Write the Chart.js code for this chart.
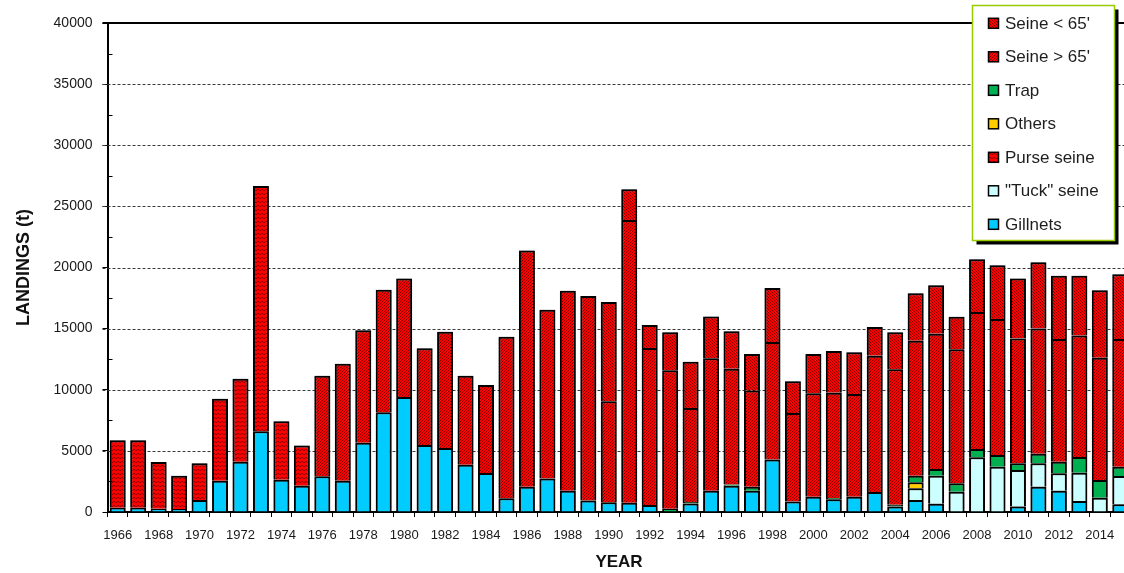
<!DOCTYPE html>
<html>
<head>
<meta charset="utf-8">
<script src="https://cdn.jsdelivr.net/npm/chart.js@4.4.1/dist/chart.umd.min.js"></script>
<style>
  html, body { margin: 0; padding: 0; overflow: hidden; background: #fff; }
  canvas { display: block; }
</style>
</head>
<body>
<canvas id="landings" width="1140" height="573"></canvas>
<script>
// Landings (t) by gear type, 1966-2015
const years = ['1966','1967','1968','1969','1970','1971','1972','1973','1974','1975',
               '1976','1977','1978','1979','1980','1981','1982','1983','1984','1985',
               '1986','1987','1988','1989','1990','1991','1992','1993','1994','1995',
               '1996','1997','1998','1999','2000','2001','2002','2003','2004','2005',
               '2006','2007','2008','2009','2010','2011','2012','2013','2014','2015'];

const gillnets = [350,350,270,250,980,2560,4120,6600,2640,2150,
                  2920,2560,5670,8150,9410,5480,5240,3870,3190,1120,
                  2070,2750,1740,950,790,760,570,null,700,1740,
                  2150,1740,4300,850,1250,1050,1250,1640,440,980,
                  680,null,null,null,440,2070,1740,900,null,630];

const tuckSeine = [null,null,null,null,null,null,null,null,null,null,
                   null,null,null,null,null,null,null,null,null,null,
                   null,null,null,null,null,null,null,null,null,null,
                   null,null,null,null,null,null,null,null,null,960,
                   2290,1660,4470,3710,3000,1910,1420,2320,1170,2310];

const purseSeine = [5510,5510,3820,2720,3000,6710,6780,20070,4780,3280,
                    null,null,null,null,null,null,null,null,null,null,
                    null,null,null,null,null,null,null,null,null,null,
                    null,null,null,null,null,null,null,null,null,null,
                    null,null,null,null,null,null,null,null,null,null];

const others = [null,null,null,null,null,null,null,null,null,null,
                null,null,null,null,null,null,null,null,null,null,
                null,null,null,null,null,null,null,null,null,null,
                null,null,null,null,null,null,null,null,null,490,
                null,null,null,null,null,null,null,null,null,null];

const trap = [null,null,null,null,null,null,null,null,null,null,
              null,null,null,null,null,null,null,null,null,null,
              null,null,null,null,null,null,null,270,120,null,
              100,330,null,null,null,100,null,null,150,540,
              550,690,680,950,540,790,960,1280,1450,770];

const seineOver65 = [null,null,null,null,null,null,null,null,null,null,
                     8230,9570,9190,10040,9700,7910,9510,7280,7200,13220,
                     19330,13800,16360,16720,8260,23130,12850,11320,7690,10830,
                     9470,7860,9600,7250,8460,8610,8400,11150,11080,11040,
                     11070,10960,11210,11130,10220,10250,10030,9930,10000,10440];

const seineUnder65 = [null,null,null,null,null,null,null,null,null,null,
                      null,null,null,null,null,null,null,null,null,null,
                      null,null,null,null,8130,2510,1880,3110,3790,3430,
                      3060,2990,4420,2590,3210,3410,3410,2340,3030,3880,
                      3950,2670,4310,4390,4910,5400,5180,4900,5510,5290];

const yTicks = { min: 0, max: 40000, major: 5000, minor: 2500 };

const FONT = "'Liberation Sans', Arial, sans-serif";

// ---- hatch fills ----
function makePattern(size, draw) {
  const c = document.createElement('canvas');
  c.width = size; c.height = size;
  const g = c.getContext('2d');
  g.fillStyle = '#ff0000';
  g.fillRect(0, 0, size, size);
  g.strokeStyle = 'rgba(0,0,0,0.6)';
  g.lineWidth = 0.8;
  draw(g, size);
  return g.createPattern(c, 'repeat');
}
const fillPurse = makePattern(4, (g, s) => {
  g.beginPath();
  g.moveTo(0, 2.8); g.lineTo(2, 1.2); g.lineTo(4, 2.8);
  g.stroke();
});
const fillOver = makePattern(3, (g, s) => {
  g.beginPath();
  g.moveTo(0, s); g.lineTo(s, 0);
  g.moveTo(-1, 1); g.lineTo(1, -1);
  g.moveTo(s - 1, s + 1); g.lineTo(s + 1, s - 1);
  g.stroke();
});
const fillUnder = makePattern(3, (g, s) => {
  g.beginPath();
  g.moveTo(0, 0); g.lineTo(s, s);
  g.moveTo(-1, s - 1); g.lineTo(1, s + 1);
  g.moveTo(s - 1, -1); g.lineTo(s + 1, 1);
  g.stroke();
});

const series = [
  { label: 'Gillnets',      data: gillnets,     backgroundColor: '#00ccff' },
  { label: '"Tuck" seine',  data: tuckSeine,    backgroundColor: '#ccffff' },
  { label: 'Purse seine',   data: purseSeine,   backgroundColor: fillPurse },
  { label: 'Others',        data: others,       backgroundColor: '#ffcc00' },
  { label: 'Trap',          data: trap,         backgroundColor: '#00b050' },
  { label: "Seine > 65'",   data: seineOver65,  backgroundColor: fillOver },
  { label: "Seine < 65'",   data: seineUnder65, backgroundColor: fillUnder }
];

// dashed horizontal grid behind the bars, soft edge on the bars
const gridPlugin = {
  id: 'dashedGrid',
  beforeDatasetsDraw(chart) {
    const { ctx, chartArea: a, scales: { y } } = chart;
    ctx.save();
    ctx.strokeStyle = '#3a3a3a';
    ctx.lineWidth = 1;
    ctx.setLineDash([3, 2]);
    y.ticks.forEach(t => {
      if (t.value % yTicks.major === 0 && t.value > yTicks.min && t.value < yTicks.max) {
        const py = Math.round(y.getPixelForValue(t.value)) + 0.5;
        ctx.beginPath();
        ctx.moveTo(a.left - 5, py);
        ctx.lineTo(a.right, py);
        ctx.stroke();
      }
    });
    ctx.restore();
    ctx.save();
    ctx.shadowColor = 'rgba(0,0,0,0.45)';
    ctx.shadowBlur = 2;
  },
  afterDatasetsDraw(chart) {
    const { ctx, chartArea: a, scales: { y } } = chart;
    ctx.restore();
    ctx.save();
    // frame top
    ctx.strokeStyle = '#000';
    ctx.lineWidth = 2;
    ctx.beginPath();
    ctx.moveTo(a.left - 5, a.top);
    ctx.lineTo(a.right, a.top);
    ctx.stroke();
    // minor ticks on the inside of the value axis
    ctx.lineWidth = 1;
    y.ticks.forEach(t => {
      if (t.value % yTicks.major !== 0) {
        const py = Math.round(y.getPixelForValue(t.value)) + 0.5;
        ctx.beginPath();
        ctx.moveTo(a.left, py);
        ctx.lineTo(a.left + 5, py);
        ctx.stroke();
      }
    });
    ctx.restore();
  }
};

// boxed legend with drop shadow, listed top of stack first
const legendPlugin = {
  id: 'boxLegend',
  afterDraw(chart) {
    const { ctx } = chart;
    const box = { x: 972.5, y: 5.5, w: 142, h: 235 };
    ctx.save();
    ctx.fillStyle = '#000';
    ctx.fillRect(box.x + 4, box.y + 4, box.w, box.h);
    ctx.fillStyle = '#fff';
    ctx.fillRect(box.x, box.y, box.w, box.h);
    ctx.strokeStyle = '#99cc00';
    ctx.lineWidth = 1.5;
    ctx.strokeRect(box.x, box.y, box.w, box.h);

    const items = chart.data.datasets.slice().reverse();
    ctx.font = '17px ' + FONT;
    ctx.textBaseline = 'middle';
    ctx.textAlign = 'left';
    items.forEach((ds, i) => {
      const cy = 23.3 + i * 33.5;
      ctx.fillStyle = ds.backgroundColor;
      ctx.fillRect(988.5, cy - 5, 10, 10);
      ctx.strokeStyle = '#000';
      ctx.lineWidth = 1.5;
      ctx.strokeRect(988.5, cy - 5, 10, 10);
      ctx.fillStyle = '#1e1e1e';
      ctx.fillText(ds.label, 1005, cy + 1);
    });
    ctx.restore();
  }
};

new Chart(document.getElementById('landings'), {
  type: 'bar',
  data: {
    labels: years,
    datasets: series.map(s => ({
      label: s.label,
      data: s.data,
      backgroundColor: s.backgroundColor,
      borderColor: '#000',
      borderWidth: 2,
      barPercentage: 0.78,
      categoryPercentage: 1.0
    }))
  },
  options: {
    responsive: false,
    animation: false,
    devicePixelRatio: 1,
    layout: { padding: { left: 0, top: 23, right: 9.5, bottom: 0 } },
    plugins: { legend: { display: false }, tooltip: { enabled: false } },
    scales: {
      x: {
        stacked: true,
        afterFit(scale) { scale.height = 61; },
        grid: { display: true, drawOnChartArea: false, drawTicks: true, tickLength: 5, tickColor: '#000', offset: true },
        border: { display: true, color: '#000', width: 2 },
        ticks: {
          autoSkip: false, maxRotation: 0, minRotation: 0, padding: 11,
          color: '#1a1a1a', font: { family: FONT, size: 13 },
          callback(v, i) { return i % 2 === 0 ? years[i] : ''; }
        },
        title: {
          display: true, text: 'YEAR', color: '#111',
          font: { family: FONT, size: 17, weight: 'bold' },
          padding: { top: 0, bottom: 0 }
        }
      },
      y: {
        stacked: true,
        min: yTicks.min, max: yTicks.max,
        afterFit(scale) { scale.width = 107.5; },
        grid: {
          drawOnChartArea: false, drawTicks: true, tickLength: 5,
          tickColor: c => (c.tick && c.tick.value % yTicks.major === 0) ? '#000' : 'rgba(0,0,0,0)'
        },
        border: { display: true, color: '#000', width: 2 },
        ticks: {
          stepSize: yTicks.minor, padding: 10,
          color: '#1a1a1a', font: { family: FONT, size: 14 },
          callback(v) { return v % yTicks.major === 0 ? String(v) : ''; }
        },
        title: {
          display: true, text: 'LANDINGS (t)', color: '#111',
          font: { family: FONT, size: 18, weight: 'bold' },
          padding: { top: 13, bottom: 0 }
        }
      }
    }
  },
  plugins: [gridPlugin, legendPlugin]
});
</script>
</body>
</html>
